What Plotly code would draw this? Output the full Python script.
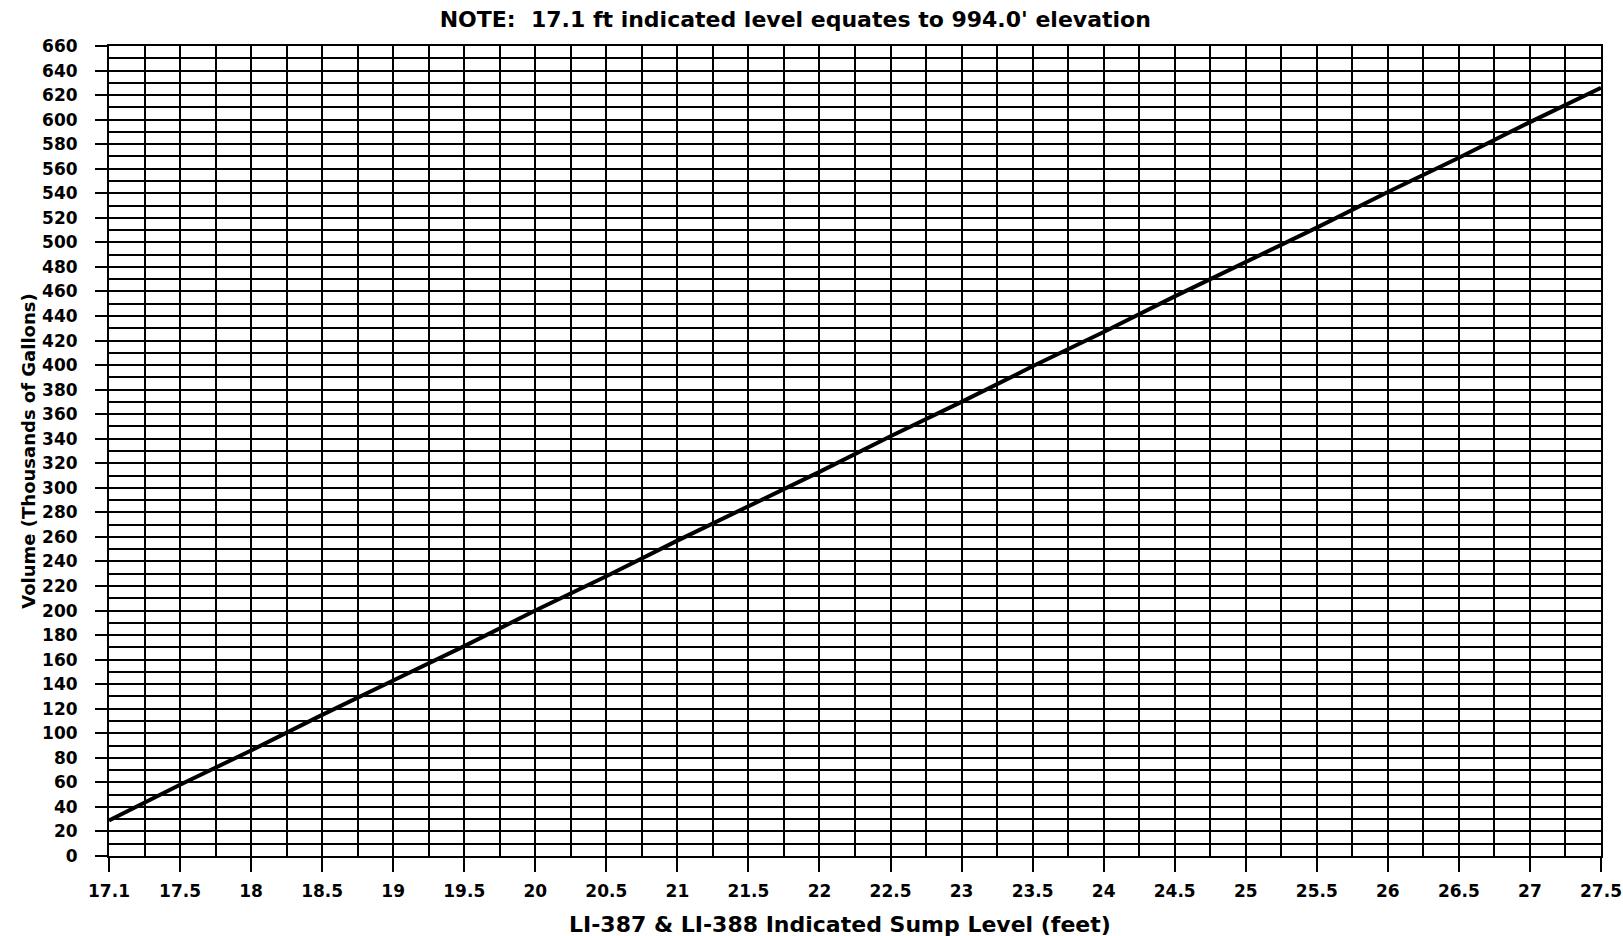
import plotly.graph_objects as go

# Indicated sump level (ft) readings and the corresponding volume (thousands of gallons)
level_labels = ["17.1", "17.5", "18", "18.5", "19", "19.5", "20", "20.5", "21", "21.5",
                "22", "22.5", "23", "23.5", "24", "24.5", "25", "25.5", "26", "26.5",
                "27", "27.5"]
volume_kgal = [29, 58, 86, 115, 143, 171, 200, 228, 257, 285,
               313, 342, 370, 399, 427, 456, 484, 512, 541, 569,
               598, 626]

y_max = 660
y_major = 20
y_minor = 10

FONT = "DejaVu Sans"
INK = "black"

fig = go.Figure()

fig.add_trace(go.Scatter(
    x=level_labels, y=volume_kgal, mode="lines",
    line=dict(color=INK, width=4), hoverinfo="x+y", showlegend=False,
))

# empty trace on the overlay axis that carries the half-step vertical grid
fig.add_trace(go.Scatter(x=[], y=[], xaxis="x2", showlegend=False, hoverinfo="skip"))

n_steps = len(level_labels) - 1

fig.update_layout(
    width=1623, height=936,
    margin=dict(l=109, r=22, t=46, b=80, autoexpand=False),
    paper_bgcolor="white", plot_bgcolor="white",
    title=dict(
        text="NOTE:  17.1 ft indicated level equates to 994.0' elevation",
        x=0.49, xanchor="center", y=0.979, yanchor="middle",
        font=dict(family=FONT, size=22, color=INK, weight="bold"),
    ),
    xaxis=dict(
        type="category", range=[0, n_steps], automargin=False,
        showgrid=True, gridcolor=INK, gridwidth=2,
        showline=True, linecolor=INK, linewidth=2, mirror=True,
        ticks="outside", ticklen=14, tickwidth=2, tickcolor=INK,
        ticklabelstandoff=5,
        tickfont=dict(family=FONT, size=17, color=INK, weight="bold"),
        zeroline=False,
    ),
    xaxis2=dict(
        overlaying="x", range=[0, n_steps], dtick=0.5, tick0=0, automargin=False,
        showgrid=True, gridcolor=INK, gridwidth=2,
        showticklabels=False, ticks="", zeroline=False, side="bottom",
    ),
    yaxis=dict(
        range=[0, y_max], dtick=y_major, tick0=0, automargin=False,
        showgrid=True, gridcolor=INK, gridwidth=2,
        minor=dict(dtick=y_minor, showgrid=True, gridcolor=INK, gridwidth=2, ticks=""),
        showline=True, linecolor=INK, linewidth=2, mirror=True,
        ticks="outside", ticklen=12, tickwidth=2, tickcolor=INK,
        ticklabelstandoff=14,
        tickfont=dict(family=FONT, size=17, color=INK, weight="bold"),
        title=dict(text="Volume (Thousands of Gallons)",
                   font=dict(family=FONT, size=18, color=INK, weight="bold"),
                   standoff=2),
        zeroline=False,
    ),
    annotations=[dict(
        text="LI-387 & LI-388 Indicated Sump Level (feet)",
        xref="paper", yref="paper", x=0.49, y=-0.084,
        xanchor="center", yanchor="middle", showarrow=False,
        font=dict(family=FONT, size=22, color=INK, weight="bold"),
    )],
)

fig.write_html("out.html")
